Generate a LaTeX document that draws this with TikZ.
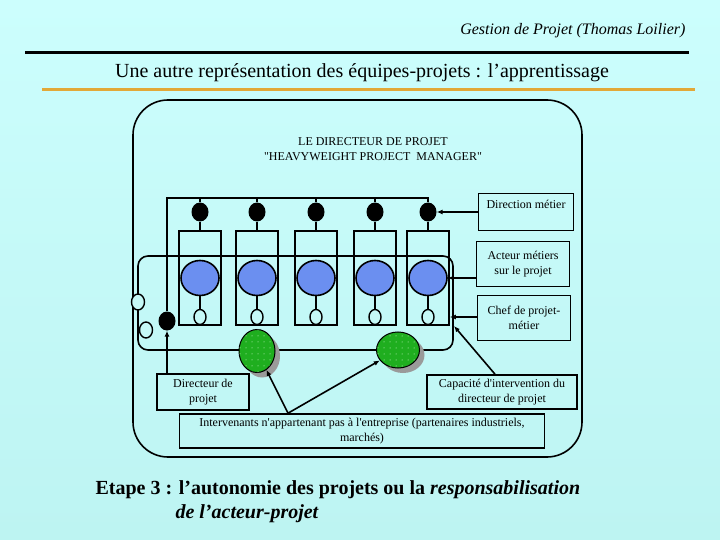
\documentclass[tikz,border=0pt]{standalone}
\usepackage{fontspec}
\setmainfont{Liberation Serif}
\usepackage{xcolor}
\definecolor{slideTop}{HTML}{CCFEFD}
\definecolor{slideBottom}{HTML}{BDF4F2}
\definecolor{slideBg}{HTML}{C6F9F7}
\definecolor{actorBlue}{HTML}{6B8FF0}
\definecolor{partnerGreen}{HTML}{1FAE1F}
\definecolor{shadowGray}{HTML}{9A9A9A}
\definecolor{ruleOrange}{HTML}{E2A838}
\usetikzlibrary{shapes.geometric,patterns.meta,arrows.meta}
\tikzset{
  stem/.style={line width=1.6pt},
  labelbox/.style={draw, line width=1.6pt, align=center, inner sep=2pt,
    font=\fontsize{12}{14.5}\selectfont},
  teambox/.style={draw, line width=1.6pt, minimum width=42pt, minimum height=94pt, inner sep=0pt},
  blackdot/.style={ellipse, fill=black, minimum width=17pt, minimum height=19pt, inner sep=0pt},
  blueball/.style={ellipse, draw, line width=1.6pt, fill=actorBlue,
    minimum width=38pt, minimum height=35pt, inner sep=0pt},
  ring/.style={ellipse, draw, line width=1.4pt, fill=slideBg,
    minimum width=12pt, minimum height=15pt, inner sep=0pt},
  greenball/.style={ellipse, draw, line width=1pt, fill=partnerGreen, inner sep=0pt,
    postaction={pattern={Dots[distance=6pt,radius=0.5pt]}, pattern color=white!85!green}},
  greenshadow/.style={ellipse, fill=shadowGray, inner sep=0pt},
  pointer/.style={line width=1.6pt, -{Latex[length=6pt,width=5pt]}}
}

\begin{document}
\begin{tikzpicture}[x=1pt, y=-1pt]
  \useasboundingbox (0,0) rectangle (720,540);
  \shade[top color=slideTop, bottom color=slideBottom] (0,0) rectangle (720,540);

  % heading
  \node[anchor=east, font=\fontsize{16}{18}\selectfont\itshape] (hdr) at (689,31) {Gestion de Projet (Thomas Loilier)};
  \draw[line width=3pt] (25,53) -- (689,53);
  \node[font=\fontsize{20}{22}\selectfont] (title) at (362,73) {Une autre représentation des équipes-projets : l'apprentissage};
  \draw[ruleOrange, line width=3pt] (42,90) -- (695,90);

  % frame
  \draw[line width=1.6pt, rounded corners=35pt] (133,100) rectangle (582,457);
  \node[align=center, font=\fontsize{12}{15}\selectfont] (pm) at (373,149) {LE DIRECTEUR DE PROJET\\\textquotedbl HEAVYWEIGHT PROJECT~~MANAGER\textquotedbl};

  % loop of the chefs de projet
  \draw[stem, rounded corners=10pt] (138,256) rectangle (453,350);

  % team columns
  \node[teambox] (t1) at (200,278) {};
  \node[teambox] (t2) at (257,278) {};
  \node[teambox] (t3) at (316,278) {};
  \node[teambox] (t4) at (375,278) {};
  \node[teambox] (t5) at (428,278) {};
  \node[blackdot] (b1) at (200,212) {};
  \node[blackdot] (b2) at (257,212) {};
  \node[blackdot] (b3) at (316,212) {};
  \node[blackdot] (b4) at (375,212) {};
  \node[blackdot] (b5) at (428,212) {};
  \node[blueball] (u1) at (200,278) {};
  \node[blueball] (u2) at (257,278) {};
  \node[blueball] (u3) at (316,278) {};
  \node[blueball] (u4) at (375,278) {};
  \node[blueball] (u5) at (428,278) {};
  \node[ring] (r1) at (200,317) {};
  \node[ring] (r2) at (257,317) {};
  \node[ring] (r3) at (316,317) {};
  \node[ring] (r4) at (375,317) {};
  \node[ring] (r5) at (428,317) {};

  % director and his bar
  \node[blackdot] (dir) at (167,321) {};
  \coordinate (barL) at (167,198);
  \coordinate (barR) at (428,198);
  \draw[stem] (dir) -- (barL) -- (barR) -- (b5);
  \draw[stem] (b1) -- (b1 |- barL);
  \draw[stem] (b2) -- (b2 |- barL);
  \draw[stem] (b3) -- (b3 |- barL);
  \draw[stem] (b4) -- (b4 |- barL);
  \draw[stem] (b1) -- (t1.north);
  \draw[stem] (b2) -- (t2.north);
  \draw[stem] (b3) -- (t3.north);
  \draw[stem] (b4) -- (t4.north);
  \draw[stem] (b5) -- (t5.north);
  \draw[stem] (u1) -- (r1);
  \draw[stem] (u2) -- (r2);
  \draw[stem] (u3) -- (r3);
  \draw[stem] (u4) -- (r4);
  \draw[stem] (u5) -- (r5);

  \node[ring, minimum width=13pt, minimum height=16pt] (lr1) at (138,302) {};
  \node[ring, minimum width=13pt, minimum height=16pt] (lr2) at (146,330) {};

  % outside partners
  \node[greenshadow, minimum width=36pt, minimum height=43pt] (g1s) at (262,356) {};
  \node[greenshadow, minimum width=43pt, minimum height=36pt] (g2s) at (403,355) {};
  \node[greenball, minimum width=36pt, minimum height=43pt] (g1) at (257,351) {};
  \node[greenball, minimum width=43pt, minimum height=36pt] (g2) at (398,350) {};

  % labels
  \node[labelbox, minimum width=95pt, minimum height=37pt] (dm) at (526,212) {Direction métier\\ \mbox{}};
  \node[labelbox, minimum width=93pt, minimum height=45pt] (am) at (523,264) {Acteur métiers\\ sur le projet};
  \node[labelbox, minimum width=93pt, minimum height=45pt] (cp) at (524,318) {Chef de projet-\\métier};
  \node[labelbox, minimum width=92pt, minimum height=36pt] (dp) at (203,392) {Directeur de\\projet};
  \node[labelbox, minimum width=150pt, minimum height=34pt] (ci) at (502,392) {Capacité d\textquotesingle intervention du\\directeur de projet};
  \node[labelbox, minimum width=365pt, minimum height=34pt] (iv) at (362,431) {Intervenants n\textquotesingle appartenant pas à l\textquotesingle entreprise (partenaires industriels,\\marchés)};

  \coordinate (cap) at (454,326);
  \coordinate (ivtop) at ([xshift=-74pt]iv.north);
  \draw[pointer] (dm) -- (b5);
  \draw[pointer] (am.west |- u5) -- (u5);
  \draw[pointer] (cp.west |- r5) -- (t5.east |- r5);
  \draw[pointer] ([xshift=-7pt]ci.north) -- (cap);
  \draw[pointer] (dp.north -| dir) -- (dir);
  \draw[pointer] (ivtop) -- (g1);
  \draw[pointer] (ivtop) -- (g2);

  % stage
  \node[anchor=north west, align=left, font=\fontsize{20}{24}\selectfont\bfseries] (stage) at (92,477)
    {Etape 3 : l'autonomie des projets ou la \textit{responsabilisation}\\\hspace*{80pt}\textit{de l'acteur-projet}};
\end{tikzpicture}
\end{document}
